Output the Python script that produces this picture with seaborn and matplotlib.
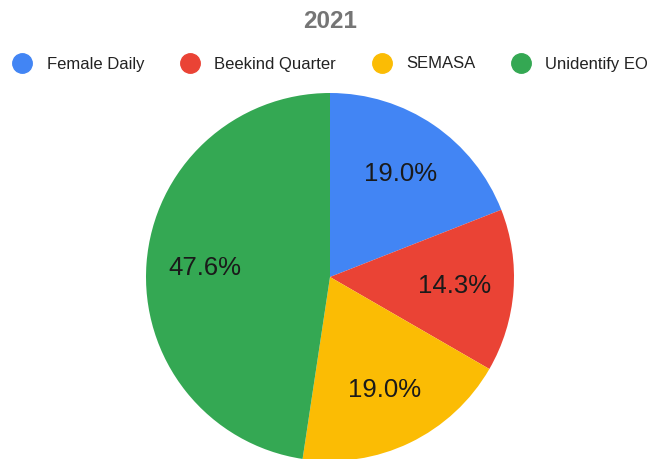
import matplotlib
matplotlib.use("Agg")
import matplotlib.pyplot as plt
import seaborn as sns
from matplotlib.lines import Line2D

sns.set_theme(style="white")
plt.rcParams['font.family'] = ['Liberation Sans', 'DejaVu Sans']

title = "2021"
categories = ["Female Daily", "Beekind Quarter", "SEMASA", "Unidentify EO"]
values = [4, 3, 4, 10]
colors = ["#4285F4", "#EA4335", "#FBBC04", "#34A853"]

W, H = 649, 459
fig = plt.figure(figsize=(W / 100, H / 100), dpi=100)
fig.patch.set_facecolor("white")

cx, cy, r = 330, 277, 184
ax = fig.add_axes([(cx - r) / W, (H - cy - r) / H, 2 * r / W, 2 * r / H])
wedges, texts, autotexts = ax.pie(
    values, colors=colors, startangle=90, counterclock=False,
    autopct="%1.1f%%", pctdistance=0.68, radius=1,
    textprops=dict(fontsize=18.5, color="#1a1a1a"),
    wedgeprops=dict(linewidth=0),
)
ax.set_xlim(-1, 1)
ax.set_ylim(-1, 1)
ax.set_aspect("equal")
ax.axis("off")

fig.text(cx / W, 1 - 21 / H, title, ha="center", va="center",
         fontsize=17.5, fontweight="bold", color="#757575")

handles = [Line2D([0], [0], marker="o", linestyle="", markersize=14,
                  markerfacecolor=c, markeredgecolor=c) for c in colors]
fig.legend(handles, categories, loc="center", ncol=4,
           bbox_to_anchor=(331 / W, 1 - 64 / H), frameon=False,
           fontsize=12, labelcolor="#222222", handletextpad=0.95,
           columnspacing=2.25, handlelength=1.0)

fig.savefig("out.png", dpi=100, facecolor="white")
